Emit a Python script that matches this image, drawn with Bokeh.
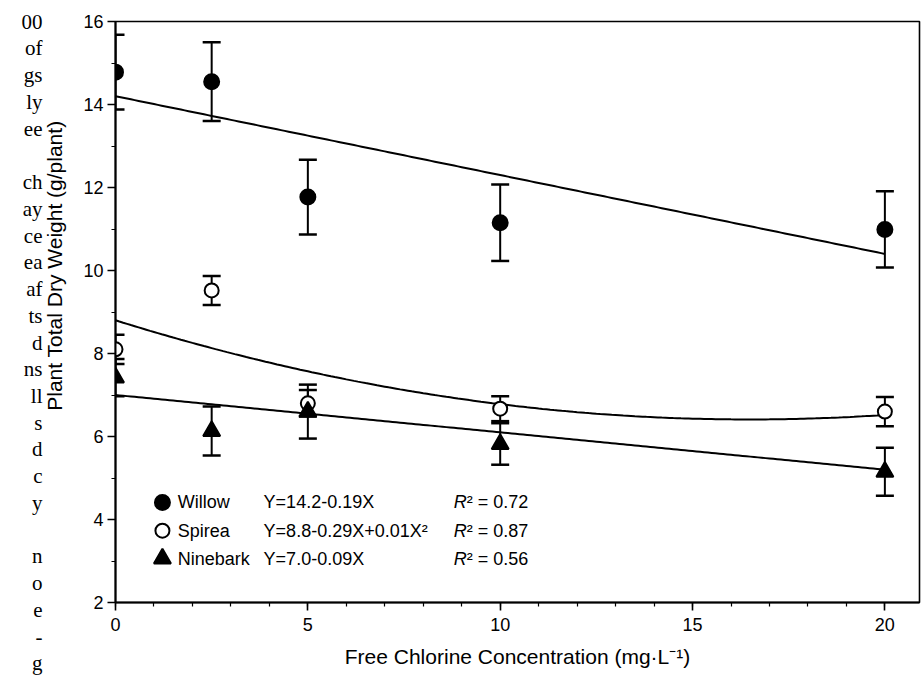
import numpy as np
from bokeh.plotting import figure
from bokeh.models import (ColumnDataSource, Whisker, TeeHead, Label, Range1d,
                          SingleIntervalTicker, FixedTicker, LinearAxis)
from bokeh.embed import file_html
from bokeh.resources import INLINE

# ---------------- data ----------------
conc = [0, 2.5, 5, 10, 20]
willow = [14.78, 14.55, 11.77, 11.15, 10.99]
willow_se = [0.90, 0.95, 0.90, 0.92, 0.92]
spirea = [8.10, 9.52, 6.80, 6.67, 6.60]
spirea_se = [0.35, 0.35, 0.32, 0.30, 0.35]
ninebark = [7.42, 6.13, 6.60, 5.82, 5.15]
ninebark_se = [0.45, 0.59, 0.65, 0.50, 0.58]

# regression coefficients (intercept, linear, quadratic)
willow_fit = [14.2, -0.19, 0.0]
spirea_fit = [8.8, -0.29, 0.0088]
ninebark_fit = [7.0, -0.09, 0.0]

species = ["Willow", "Spirea", "Ninebark"]
equations = ["Y=14.2-0.19X", "Y=8.8-0.29X+0.01X\u00b2", "Y=7.0-0.09X"]
r2_text = ["= 0.72", "= 0.87", "= 0.56"]

x_title = "Free Chlorine Concentration (mg\u00b7L\u207b\u00b9)"
y_title = "Plant Total Dry Weight (g/plant)"

# fragments of the neighbouring page text, cut off at the left margin
side_text = ["00", "of", "gs", "ly", "ee", "", "ch", "ay", "ce", "ea", "af", "ts",
             "d", "ns", "ll", "s", "d", "c", "y", "", "n", "o", "e", "-", "g"]

FONT = "Liberation Sans"

p = figure(width=921, height=685, x_range=Range1d(0, 20.9), y_range=Range1d(2, 16),
           output_backend="svg", toolbar_location=None,
           min_border_left=115, min_border_right=2, min_border_top=21,
           min_border_bottom=83)
p.background_fill_color = "white"
p.border_fill_color = "white"
p.outline_line_color = "black"
p.outline_line_width = 1.6
p.xgrid.grid_line_color = None
p.ygrid.grid_line_color = None

p.xaxis.ticker = SingleIntervalTicker(interval=5, num_minor_ticks=5)
p.yaxis.ticker = SingleIntervalTicker(interval=2, num_minor_ticks=2)
for ax in (p.xaxis, p.yaxis):
    ax.axis_line_width = 2
    ax.axis_line_color = "black"
    ax.major_tick_in = 0
    ax.major_tick_out = 8
    ax.minor_tick_in = 0
    ax.minor_tick_out = 4
    ax.major_tick_line_width = 1.6
    ax.minor_tick_line_width = 1.2
    ax.major_tick_line_color = "black"
    ax.minor_tick_line_color = "black"
    ax.major_label_text_font = FONT
    ax.major_label_text_font_size = "18px"
    ax.major_label_text_color = "black"
    ax.axis_label_text_font = FONT
    ax.axis_label_text_font_size = "21px"
    ax.axis_label_text_font_style = "normal"
    ax.axis_label_text_color = "black"
p.xaxis.major_label_standoff = 7
p.yaxis.major_label_standoff = 4
p.xaxis.axis_label = x_title
p.xaxis.axis_label_standoff = 11

# extra range in page pixels (frame spans 21..602) for the texts left of the axis
p.extra_y_ranges = {"px": Range1d(start=602, end=21)}

# y-axis title, drawn as the single (vertical) label of a tick-less axis
YT = 120
ytitle_axis = LinearAxis(y_range_name="px", ticker=FixedTicker(ticks=[YT], minor_ticks=[]),
                         major_label_overrides={YT: y_title},
                         major_label_orientation=np.pi / 2,
                         major_label_text_font=FONT, major_label_text_font_size="21px",
                         major_label_text_color="black", major_label_standoff=26,
                         axis_line_color=None, major_tick_line_color=None,
                         minor_tick_line_color=None, major_tick_out=0, major_tick_in=0)
p.add_layout(ytitle_axis, "left")

# cut-off page text, one multi-line label of another tick-less axis
FT = 342
frag_axis = LinearAxis(y_range_name="px", ticker=FixedTicker(ticks=[FT], minor_ticks=[]),
                       major_label_overrides={FT: "\n".join(side_text)},
                       major_label_text_font="Liberation Serif",
                       major_label_text_font_size="21px", major_label_text_color="black",
                       major_label_text_line_height=1.114,
                       major_label_standoff=-14, axis_line_color=None,
                       major_tick_line_color=None, minor_tick_line_color=None,
                       major_tick_out=0, major_tick_in=0)
p.add_layout(frag_axis, "left")

# ---------------- regression lines ----------------
xf = np.linspace(0, 20, 201)
for coef in (willow_fit, spirea_fit, ninebark_fit):
    yf = coef[0] + coef[1] * xf + coef[2] * xf ** 2
    p.line(xf, yf, line_color="black", line_width=2)

# ---------------- error bars + points ----------------
series = [
    (willow, willow_se, "circle", "black", 15),
    (spirea, spirea_se, "circle", "white", 14),
    (ninebark, ninebark_se, "triangle", "black", 17),
]
for vals, se, marker, fill, size in series:
    src = ColumnDataSource(dict(
        x=conc, y=vals,
        upper=[v + e for v, e in zip(vals, se)],
        lower=[v - e for v, e in zip(vals, se)]))
    p.add_layout(Whisker(source=src, base="x", upper="upper", lower="lower",
                         line_color="black", line_width=2,
                         upper_head=TeeHead(size=18, line_width=2.5, line_color="black"),
                         lower_head=TeeHead(size=18, line_width=2.5, line_color="black")))
for vals, se, marker, fill, size in series:
    p.scatter(conc, vals, marker=marker, size=size, fill_color=fill,
              line_color="black", line_width=2)

# ---------------- in-plot legend ----------------
leg_rows_y = [4.41, 3.73, 3.06]
leg_marker_x = 1.22
leg_name_x = 1.62
leg_eq_x = 3.85
leg_r_x = 8.79
leg_markers = [("circle", "black", 15), ("circle", "white", 14), ("triangle", "black", 17)]
for (mk, fill, size), ly in zip(leg_markers, leg_rows_y):
    p.scatter([leg_marker_x], [ly], marker=mk, size=size, fill_color=fill,
              line_color="black", line_width=2)
for name, eq, r2, ly in zip(species, equations, r2_text, leg_rows_y):
    for txt, lx, off, style in ((name, leg_name_x, 0, "normal"),
                                (eq, leg_eq_x, 0, "normal"),
                                ("R", leg_r_x, 0, "italic"),
                                ("\u00b2 " + r2, leg_r_x, 13, "normal")):
        p.add_layout(Label(x=lx, y=ly, x_offset=off, text=txt,
                           text_font=FONT, text_font_size="18px",
                           text_font_style=style, text_color="black",
                           text_baseline="middle", text_align="left"))

open("out.html", "w").write(file_html(p, INLINE))
